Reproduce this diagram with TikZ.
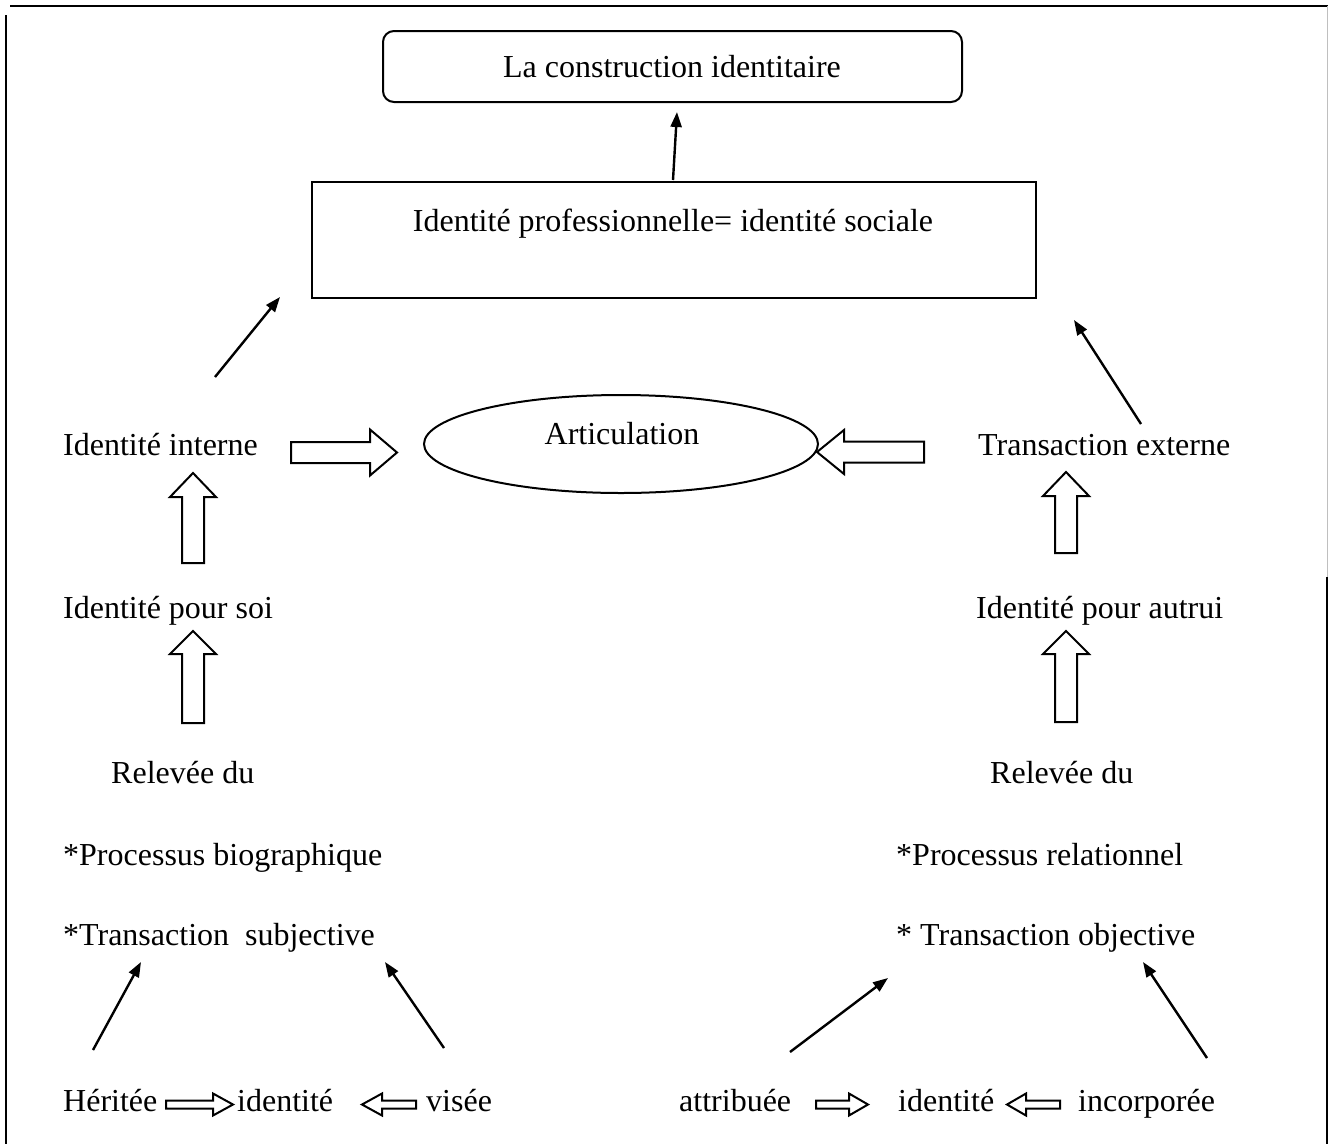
\documentclass[tikz,border=0pt]{standalone}
\usepackage{fontspec}
\setmainfont{Liberation Serif}
\usetikzlibrary{arrows.meta,shapes.geometric}
\newcommand\blockarrow[7]{%
  \draw[blk, shift={(#1,#2)}, rotate=#3]
    (0,{-#5/2}) -- ({#4-#7},{-#5/2}) -- ({#4-#7},{-#6/2}) -- (#4,0)
    -- ({#4-#7},{#6/2}) -- ({#4-#7},{#5/2}) -- (0,{#5/2}) -- cycle;}
\begin{document}
\begin{tikzpicture}[x=1pt,y=-1pt,
  txt/.style={inner sep=0pt, font=\fontsize{32}{38}\selectfont},
  lbl/.style={txt, anchor=base west},
  ctr/.style={txt, anchor=base},
  thinarrow/.style={line width=2.4pt, -{Triangle[length=15pt,width=11pt]}},
  blk/.style={draw, line width=2pt, fill=white, line join=miter},
  boxstyle/.style={draw, line width=2pt, inner sep=0pt},
  frame/.style={line width=2.5pt}]
\useasboundingbox (0,0) rectangle (1328,1144);

% frame
\draw[frame] (10,6) -- (1328,6);
\draw[frame] (6,15) -- (6,1144);
\draw[line width=1pt, black!25] (1327,6) -- (1327,577);
\draw[frame] (1327,577) -- (1327,1144);

% top boxes
\node[boxstyle, rounded corners=11pt, minimum width=579pt, minimum height=71pt] (constr) at (672.5,66.5) {};
\node[ctr] (constrT) at (672,77) {La construction identitaire};
\node[boxstyle, minimum width=724pt, minimum height=116pt] (prof) at (674,240) {};
\node[ctr] (profT) at (673,231) {Identité professionnelle= identité sociale};
\node[boxstyle, ellipse, minimum width=394pt, minimum height=98pt] (artic) at (621,444) {};
\node[ctr] (articT) at (622,444) {Articulation};

% left column
\node[lbl] (intern) at (63,455) {Identité interne};
\node[lbl] (soi) at (63,618) {Identité pour soi};
\node[lbl] (relL) at (111,783) {Relevée du};
\node[lbl] (bio) at (63,865) {*Processus biographique};
\node[lbl] (subj) at (63,945) {*Transaction\ \ subjective};
\node[lbl] (herit) at (63,1111) {Héritée};
\node[lbl] (idL) at (237,1111) {identité};
\node[lbl] (visee) at (426,1111) {visée};

% right column
\node[lbl] (extern) at (978,455) {Transaction externe};
\node[lbl] (autrui) at (976,618) {Identité pour autrui};
\node[lbl] (relR) at (990,783) {Relevée du};
\node[lbl] (relat) at (896,865) {*Processus relationnel};
\node[lbl] (obj) at (896,945) {* Transaction objective};
\node[lbl] (attrib) at (679,1111) {attribuée};
\node[lbl] (idR) at (898,1111) {identité};
\node[lbl] (incorp) at (1078,1111) {incorporée};

% block arrows
\blockarrow{291}{452.5}{0}{106}{21}{46}{27}
\blockarrow{924}{452}{180}{107}{21}{44}{27}
\blockarrow{193}{563}{90}{90}{22}{46}{24}
\blockarrow{193}{723}{90}{92}{22}{46}{23}
\blockarrow{1066}{553}{90}{81}{22}{46}{24}
\blockarrow{1066}{722}{90}{91}{22}{46}{23}
\blockarrow{166}{1104.5}{0}{67}{8}{22}{20}
\blockarrow{416}{1104.5}{180}{54}{8}{22}{20}
\blockarrow{816}{1104.5}{0}{52}{8}{22}{19}
\blockarrow{1060}{1104.5}{180}{53}{8}{22}{19}

% thin arrows
\coordinate (a1) at (673,180);  \coordinate (b1) at (677,112);
\coordinate (a2) at (215,377);  \coordinate (b2) at (280,297);
\coordinate (a3) at (1141,424); \coordinate (b3) at (1074,320);
\coordinate (a4) at (93,1050);  \coordinate (b4) at (141,962);
\coordinate (a5) at (444,1048); \coordinate (b5) at (385,962);
\coordinate (a6) at (790,1052); \coordinate (b6) at (888,978);
\coordinate (a7) at (1207,1058); \coordinate (b7) at (1143,962);
\foreach \i in {1,...,7} \draw[thinarrow] (a\i) -- (b\i);
\end{tikzpicture}
\end{document}
